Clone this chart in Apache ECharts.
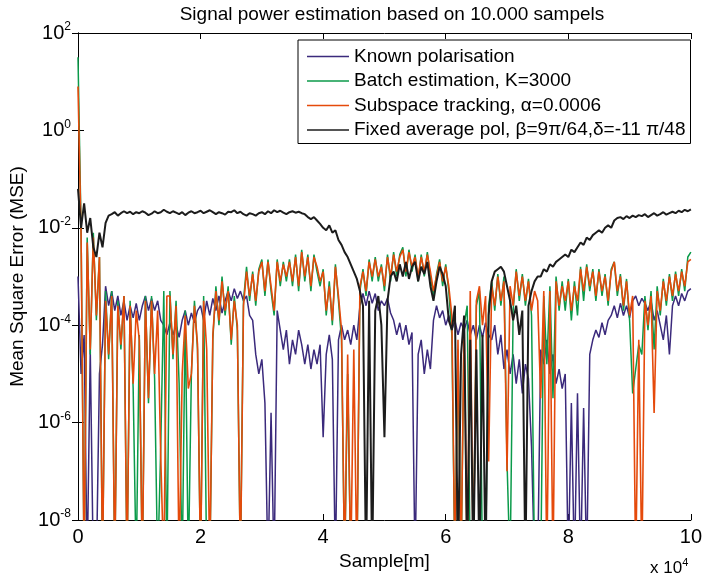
<!DOCTYPE html>
<html>
<head>
<meta charset="utf-8">
<script src="https://cdn.jsdelivr.net/npm/echarts@6/dist/echarts.min.js"></script>
<style>
html, body { margin: 0; padding: 0; background: #fff; }
#main { width: 705px; height: 577px; }
</style>
</head>
<body>
<div id="main"></div>
<script>
// one reading every 0.05 (x 10^4 samples)
var sampleStep = 0.05;

// log10(MSE), -9 means the trace drops below the axis
var knownPol = [
 -3.0,-5.0,-4.2,-9,-4.5,-9,-9,-5.0,-4.4,-3.2,-3.6,-3.3,-3.7,-3.4,-3.8,-3.5,-3.9,-3.6,-3.85,-3.55,
 -3.9,-3.6,-3.4,-3.7,-3.45,-3.7,-3.5,-3.9,-4.0,-4.2,-3.95,-4.2,-4.0,-4.25,-3.9,-3.7,-4.0,-3.75,-3.95,-3.7,
 -3.6,-3.9,-3.5,-3.8,-3.45,-3.7,-3.4,-3.75,-3.5,-3.3,-3.5,-3.25,-3.45,-3.3,-3.5,-3.4,-3.8,-3.9,-4.6,-5.0,
 -4.7,-5.6,-9,-5.8,-9,-3.7,-4.1,-4.5,-4.1,-4.8,-4.3,-4.6,-4.1,-4.4,-4.8,-4.4,-4.9,-4.5,-4.8,-4.4,
 -6.3,-4.6,-4.2,-4.7,-9,-4.3,-4.0,-4.3,-4.1,-4.4,-4.0,-4.3,-3.6,-3.35,-3.6,-3.3,-3.55,-3.35,-3.7,-3.5,
 -3.6,-3.45,-3.75,-3.9,-4.2,-3.95,-4.3,-4.0,-4.4,-4.15,-9,-4.6,-4.3,-5.0,-4.5,-4.9,-3.9,-3.6,-3.85,-3.7,
 -4.0,-3.8,-4.1,-3.9,-4.2,-3.95,-4.1,-3.9,-4.2,-4.0,-4.3,-4.0,-4.25,-3.95,-4.2,-4.3,-4.0,-4.6,-4.2,-4.9,
 -4.5,-5.0,-4.6,-5.2,-4.7,-5.4,-4.8,-5.1,-6.5,-9,-9,-4.5,-4.8,-4.3,-5.0,-4.6,-5.2,-4.9,-5.3,-5.0,
 -9,-5.6,-9,-5.4,-9,-5.7,-9,-4.6,-4.3,-4.1,-4.25,-3.95,-4.2,-3.9,-3.8,-3.6,-3.85,-3.55,-3.8,-3.6,
 -3.85,-3.5,-3.4,-3.6,-3.45,-3.55,-3.7,-3.5,-3.9,-3.7,-4.0,-4.3,-3.8,-4.6,-3.6,-3.4,-3.6,-3.35,-3.5,-3.3,
 -3.25
];
var batchEst = [
 1.5,-2.0,-9,-2.2,-4.6,-2.1,-3.9,-2.6,-9,-3.3,-4.7,-3.3,-9,-3.5,-4.5,-3.4,-9,-3.5,-5.3,-9,
 -4.2,-9,-3.4,-5.6,-3.4,-5.1,-9,-6.5,-3.3,-9,-3.3,-4.7,-3.5,-5.2,-9,-3.7,-9,-5.0,-3.5,-4.5,
 -9,-3.4,-9,-9,-4.3,-3.2,-4.0,-3.0,-3.8,-3.2,-4.4,-3.4,-4.1,-9,-3.5,-2.8,-3.5,-2.9,-3.6,-2.85,
 -2.65,-3.4,-2.65,-3.3,-3.8,-2.65,-3.2,-2.7,-3.1,-2.65,-3.2,-2.55,-3.3,-2.45,-3.1,-2.55,-3.3,-2.55,-2.9,-3.2,
 -2.85,-3.8,-3.1,-4.0,-2.75,-3.5,-4.3,-9,-5.0,-9,-9,-9,-3.3,-2.85,-3.4,-2.65,-3.1,-2.6,-3.1,-2.75,
 -3.3,-2.55,-3.1,-2.5,-3.0,-2.55,-2.4,-3.0,-2.45,-2.9,-2.55,-3.1,-2.55,-3.0,-2.5,-3.0,-3.4,-2.95,-2.65,-3.2,
 -2.75,-3.3,-4.2,-9,-4.5,-9,-4.0,-3.6,-9,-9,-3.6,-3.3,-9,-9,-3.6,-3.1,-3.7,-2.95,-3.6,-3.0,
 -6.8,-9,-3.7,-2.85,-3.5,-2.95,-3.6,-3.05,-3.8,-9,-9,-9,-3.4,-4.8,-3.2,-5.5,-3.0,-3.7,-3.1,-3.7,
 -3.05,-3.9,-3.1,-3.8,-2.8,-3.5,-2.75,-3.3,-2.85,-3.5,-2.85,-3.4,-2.95,-3.6,-2.85,-2.7,-3.4,-2.95,-3.7,-3.05,
 -3.9,-5.4,-4.9,-4.4,-4.6,-3.4,-4.1,-3.3,-4.5,-3.2,-3.8,-3.05,-3.6,-2.95,-3.5,-2.9,-3.4,-2.85,-3.3,-2.6,
 -2.5
];
var subspaceTrack = [
 0.9,-2.1,-9,-2.3,-4.5,-2.2,-3.8,-2.6,-9,-3.5,-4.6,-3.4,-9,-3.6,-4.4,-3.4,-9,-3.6,-5.2,-3.7,
 -4.3,-9,-3.5,-5.5,-3.5,-5.0,-3.7,-6.7,-9,-3.4,-3.4,-4.6,-3.6,-9,-5.0,-3.8,-5.3,-5.0,-3.6,-4.4,
 -9,-3.5,-4.5,-9,-4.2,-3.3,-3.9,-3.1,-3.7,-3.3,-4.3,-3.5,-4.0,-9,-3.6,-2.9,-3.4,-2.95,-3.5,-2.9,
 -2.7,-3.3,-2.7,-3.2,-3.7,-2.7,-3.1,-2.75,-3.0,-2.7,-3.1,-2.6,-3.2,-2.5,-3.0,-2.6,-3.2,-2.6,-2.8,-3.1,
 -2.9,-3.7,-3.2,-3.9,-2.8,-3.4,-4.1,-9,-4.6,-9,-4.5,-9,-3.2,-2.9,-3.3,-2.7,-3.0,-2.65,-3.0,-2.8,
 -3.2,-2.6,-3.0,-2.55,-2.9,-2.6,-2.45,-2.9,-2.5,-2.8,-2.6,-3.0,-2.6,-2.9,-2.55,-2.9,-3.3,-3.0,-2.7,-3.1,
 -2.8,-3.2,-3.8,-9,-4.3,-9,-3.9,-9,-3.3,-9,-3.5,-3.2,-4.0,-3.4,-6.8,-3.2,-3.6,-3.0,-3.5,-3.1,
 -7.0,-3.2,-3.6,-2.9,-3.4,-3.0,-3.5,-3.1,-3.7,-3.3,-3.5,-5.5,-3.3,-9,-3.3,-9,-3.1,-3.6,-3.2,-3.5,
 -3.1,-3.7,-3.2,-3.5,-2.85,-3.3,-2.8,-3.2,-2.9,-3.4,-2.9,-3.3,-3.0,-3.5,-2.9,-2.7,-3.3,-3.0,-3.6,-3.1,
 -3.8,-3.4,-9,-4.3,-9,-3.5,-4.0,-3.4,-5.8,-3.3,-3.7,-3.1,-3.5,-3.0,-3.4,-2.95,-3.3,-2.9,-3.2,-2.7,
 -2.65
];
var fixedPol = [
 -1.2,-2.0,-1.5,-2.1,-1.8,-2.4,-2.6,-2.1,-2.4,-1.9,-1.75,-1.72,-1.68,-1.75,-1.7,-1.66,-1.7,-1.67,-1.72,-1.68,
 -1.7,-1.66,-1.69,-1.74,-1.71,-1.66,-1.7,-1.68,-1.63,-1.67,-1.7,-1.66,-1.69,-1.72,-1.68,-1.74,-1.69,-1.66,-1.7,-1.68,
 -1.65,-1.7,-1.67,-1.64,-1.68,-1.72,-1.68,-1.7,-1.73,-1.67,-1.68,-1.64,-1.7,-1.67,-1.72,-1.75,-1.7,-1.72,-1.75,-1.7,
 -1.68,-1.72,-1.66,-1.7,-1.64,-1.68,-1.65,-1.69,-1.72,-1.68,-1.66,-1.69,-1.67,-1.7,-1.72,-1.78,-1.82,-1.78,-1.85,-1.92,
 -2.0,-2.05,-1.95,-2.1,-2.05,-2.25,-2.35,-2.5,-2.6,-2.75,-2.9,-3.05,-3.3,-3.6,-9,-3.5,-9,-3.7,-3.4,-4.0,
 -6.3,-3.5,-3.0,-2.9,-3.1,-2.75,-3.0,-2.7,-3.05,-2.8,-2.7,-3.1,-2.8,-2.95,-2.7,-3.2,-3.5,-3.1,-2.8,-2.95,
 -3.2,-3.9,-4.1,-3.6,-9,-4.6,-3.8,-9,-4.3,-9,-4.5,-9,-4.2,-9,-3.8,-3.1,-2.9,-2.85,-2.8,-2.9,
 -3.2,-3.5,-3.9,-3.6,-4.2,-3.7,-9,-3.6,-3.3,-3.1,-3.0,-3.0,-2.85,-2.9,-2.75,-2.8,-2.7,-2.65,-2.6,-2.55,
 -2.6,-2.45,-2.5,-2.4,-2.3,-2.35,-2.2,-2.25,-2.15,-2.1,-2.05,-2.1,-2.0,-1.95,-2.0,-1.85,-1.8,-1.78,-1.82,-1.76,
 -1.8,-1.75,-1.78,-1.74,-1.76,-1.72,-1.78,-1.74,-1.7,-1.75,-1.72,-1.68,-1.73,-1.7,-1.67,-1.7,-1.65,-1.68,-1.63,-1.66,
 -1.62
];

var seriesNames = [
  'Known polarisation',
  'Batch estimation, K=3000',
  'Subspace tracking, \u03b1=0.0006',
  'Fixed average pol, \u03b2=9\u03c0/64,\u03b4=-11 \u03c0/48'
];
var seriesColors = ['#3b2a7c', '#0b9a4a', '#e54a0b', '#1c1c1c'];
var seriesWidths = [1.5, 1.5, 1.6, 2];
var seriesData = [knownPol, batchEst, subspaceTrack, fixedPol];

var font = 'Liberation Sans, Arial, Helvetica, sans-serif';

function toPoints(arr) {
  var pts = [];
  for (var i = 0; i < arr.length; i++) {
    pts.push([i * sampleStep, Math.pow(10, arr[i])]);
  }
  return pts;
}

var chart = echarts.init(document.getElementById('main'), null, {renderer: 'canvas'});

var series = [];
for (var k = 0; k < seriesData.length; k++) {
  series.push({
    name: seriesNames[k],
    type: 'line',
    data: toPoints(seriesData[k]),
    symbol: 'none',
    clip: true,
    animation: false,
    lineStyle: {color: seriesColors[k], width: seriesWidths[k]},
    itemStyle: {color: seriesColors[k]}
  });
}

var xAxisBase = {
  type: 'value', min: 0, max: 10, interval: 2,
  axisLine: {lineStyle: {color: '#000', width: 1}},
  axisTick: {inside: true, length: 6, lineStyle: {color: '#000'}},
  splitLine: {show: false}
};
var yAxisBase = {
  type: 'log', logBase: 10, min: 1e-8, max: 1e2, interval: 2,
  axisLine: {lineStyle: {color: '#000', width: 1}},
  axisTick: {inside: true, length: 6, lineStyle: {color: '#000'}},
  minorTick: {show: false},
  splitLine: {show: false}
};

var option = {
  backgroundColor: '#fff',
  animation: false,
  title: {
    text: 'Signal power estimation based on 10.000 sampels',
    left: 387, top: 0, textAlign: 'center',
    textStyle: {fontFamily: font, fontSize: 19, fontWeight: 'normal', color: '#000'}
  },
  legend: {
    orient: 'vertical',
    left: 298, top: 40,
    z: 10,
    data: seriesNames,
    icon: 'rect',
    itemWidth: 42, itemHeight: 1.5,
    itemGap: 3.5,
    padding: [6, 5, 3, 9],
    backgroundColor: '#fff',
    borderColor: '#000', borderWidth: 1,
    borderRadius: 0,
    selectedMode: false,
    textStyle: {fontFamily: font, fontSize: 19, color: '#000', lineHeight: 21}
  },
  grid: {left: 78, right: 9, top: 33, bottom: 57, containLabel: false},
  xAxis: [
    Object.assign({}, xAxisBase, {
      position: 'bottom',
      name: 'Sample[m]', nameLocation: 'middle', nameGap: 20,
      nameTextStyle: {fontFamily: font, fontSize: 19, color: '#000'},
      axisLabel: {fontFamily: font, fontSize: 20, color: '#000', margin: 7}
    }),
    Object.assign({}, xAxisBase, {position: 'top', axisLabel: {show: false}})
  ],
  yAxis: [
    Object.assign({}, yAxisBase, {
      position: 'left',
      name: 'Mean Square Error (MSE)', nameLocation: 'middle', nameGap: 49,
      nameTextStyle: {fontFamily: font, fontSize: 19, color: '#000'},
      axisLabel: {
        margin: 7,
        formatter: function (v) {
          var e = Math.round(Math.log(v) / Math.LN10);
          return '{b|10}{s|' + e + '}';
        },
        rich: {
          b: {fontFamily: font, fontSize: 20, color: '#000'},
          s: {fontFamily: font, fontSize: 12, color: '#000', padding: [0, 0, 12, 0]}
        }
      }
    }),
    Object.assign({}, yAxisBase, {position: 'right', axisLabel: {show: false}})
  ],
  graphic: [{
    type: 'text',
    left: 650, top: 557,
    style: {
      text: '{b|x 10}{s|4}',
      rich: {
        b: {fontFamily: font, fontSize: 17, fill: '#000'},
        s: {fontFamily: font, fontSize: 11, fill: '#000', padding: [0, 0, 11, 0]}
      }
    }
  }],
  series: series
};

chart.setOption(option);
</script>
</body>
</html>
